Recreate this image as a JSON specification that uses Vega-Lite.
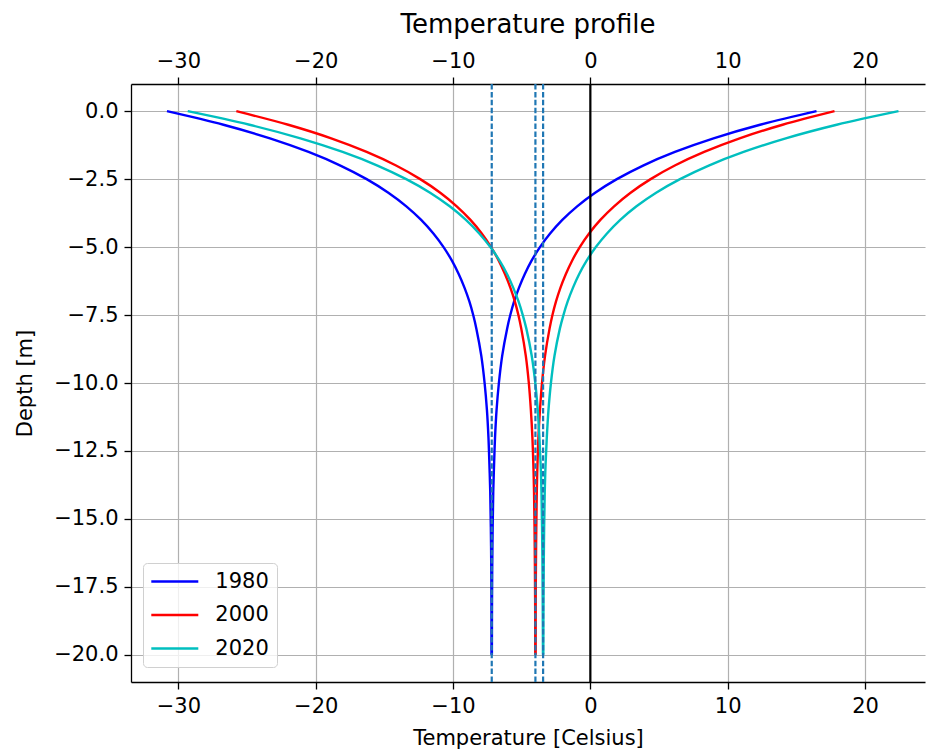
{
  "$schema": "https://vega.github.io/schema/vega-lite/v6.json",
  "width": 794,
  "height": 598,
  "autosize": "none",
  "padding": {"left": 131, "top": 84, "right": 2, "bottom": 73},
  "background": "white",
  "title": {"text": "Temperature profile", "fontSize": 26, "font": "DejaVu Sans", "fontWeight": "normal", "color": "black", "anchor": "middle", "offset": 12},
  "datasets": {
    "profiles": [
      {"year":"1980","branch":"min","depth":0,"temp":-30.83},{"year":"1980","branch":"min","depth":-0.5,"temp":-26.72},{"year":"1980","branch":"min","depth":-1,"temp":-23.33},{"year":"1980","branch":"min","depth":-1.5,"temp":-20.52},{"year":"1980","branch":"min","depth":-2,"temp":-18.2},{"year":"1980","branch":"min","depth":-2.5,"temp":-16.29},{"year":"1980","branch":"min","depth":-3,"temp":-14.71},{"year":"1980","branch":"min","depth":-3.5,"temp":-13.4},{"year":"1980","branch":"min","depth":-4,"temp":-12.32},{"year":"1980","branch":"min","depth":-4.5,"temp":-11.43},{"year":"1980","branch":"min","depth":-5,"temp":-10.69},{"year":"1980","branch":"min","depth":-5.5,"temp":-10.08},{"year":"1980","branch":"min","depth":-6,"temp":-9.58},{"year":"1980","branch":"min","depth":-6.5,"temp":-9.16},{"year":"1980","branch":"min","depth":-7,"temp":-8.81},{"year":"1980","branch":"min","depth":-7.5,"temp":-8.53},{"year":"1980","branch":"min","depth":-8,"temp":-8.3},{"year":"1980","branch":"min","depth":-9,"temp":-7.94},{"year":"1980","branch":"min","depth":-10,"temp":-7.7},{"year":"1980","branch":"min","depth":-11,"temp":-7.53},{"year":"1980","branch":"min","depth":-12,"temp":-7.42},{"year":"1980","branch":"min","depth":-13,"temp":-7.35},{"year":"1980","branch":"min","depth":-14,"temp":-7.29},{"year":"1980","branch":"min","depth":-16,"temp":-7.23},{"year":"1980","branch":"min","depth":-18,"temp":-7.2},{"year":"1980","branch":"min","depth":-20,"temp":-7.19},
      {"year":"1980","branch":"max","depth":0,"temp":16.47},{"year":"1980","branch":"max","depth":-0.5,"temp":12.36},{"year":"1980","branch":"max","depth":-1,"temp":8.97},{"year":"1980","branch":"max","depth":-1.5,"temp":6.16},{"year":"1980","branch":"max","depth":-2,"temp":3.84},{"year":"1980","branch":"max","depth":-2.5,"temp":1.93},{"year":"1980","branch":"max","depth":-3,"temp":0.35},{"year":"1980","branch":"max","depth":-3.5,"temp":-0.96},{"year":"1980","branch":"max","depth":-4,"temp":-2.04},{"year":"1980","branch":"max","depth":-4.5,"temp":-2.93},{"year":"1980","branch":"max","depth":-5,"temp":-3.67},{"year":"1980","branch":"max","depth":-5.5,"temp":-4.28},{"year":"1980","branch":"max","depth":-6,"temp":-4.78},{"year":"1980","branch":"max","depth":-6.5,"temp":-5.2},{"year":"1980","branch":"max","depth":-7,"temp":-5.55},{"year":"1980","branch":"max","depth":-7.5,"temp":-5.83},{"year":"1980","branch":"max","depth":-8,"temp":-6.06},{"year":"1980","branch":"max","depth":-9,"temp":-6.42},{"year":"1980","branch":"max","depth":-10,"temp":-6.66},{"year":"1980","branch":"max","depth":-11,"temp":-6.83},{"year":"1980","branch":"max","depth":-12,"temp":-6.94},{"year":"1980","branch":"max","depth":-13,"temp":-7.01},{"year":"1980","branch":"max","depth":-14,"temp":-7.07},{"year":"1980","branch":"max","depth":-16,"temp":-7.13},{"year":"1980","branch":"max","depth":-18,"temp":-7.16},{"year":"1980","branch":"max","depth":-20,"temp":-7.17},
      {"year":"2000","branch":"min","depth":0,"temp":-25.78},{"year":"2000","branch":"min","depth":-0.5,"temp":-22.0},{"year":"2000","branch":"min","depth":-1,"temp":-18.87},{"year":"2000","branch":"min","depth":-1.5,"temp":-16.29},{"year":"2000","branch":"min","depth":-2,"temp":-14.15},{"year":"2000","branch":"min","depth":-2.5,"temp":-12.39},{"year":"2000","branch":"min","depth":-3,"temp":-10.93},{"year":"2000","branch":"min","depth":-3.5,"temp":-9.73},{"year":"2000","branch":"min","depth":-4,"temp":-8.73},{"year":"2000","branch":"min","depth":-4.5,"temp":-7.91},{"year":"2000","branch":"min","depth":-5,"temp":-7.23},{"year":"2000","branch":"min","depth":-5.5,"temp":-6.67},{"year":"2000","branch":"min","depth":-6,"temp":-6.21},{"year":"2000","branch":"min","depth":-6.5,"temp":-5.82},{"year":"2000","branch":"min","depth":-7,"temp":-5.5},{"year":"2000","branch":"min","depth":-7.5,"temp":-5.24},{"year":"2000","branch":"min","depth":-8,"temp":-5.03},{"year":"2000","branch":"min","depth":-9,"temp":-4.7},{"year":"2000","branch":"min","depth":-10,"temp":-4.48},{"year":"2000","branch":"min","depth":-11,"temp":-4.33},{"year":"2000","branch":"min","depth":-12,"temp":-4.22},{"year":"2000","branch":"min","depth":-13,"temp":-4.15},{"year":"2000","branch":"min","depth":-14,"temp":-4.1},{"year":"2000","branch":"min","depth":-16,"temp":-4.05},{"year":"2000","branch":"min","depth":-18,"temp":-4.02},{"year":"2000","branch":"min","depth":-20,"temp":-4.01},
      {"year":"2000","branch":"max","depth":0,"temp":17.78},{"year":"2000","branch":"max","depth":-0.5,"temp":14.0},{"year":"2000","branch":"max","depth":-1,"temp":10.87},{"year":"2000","branch":"max","depth":-1.5,"temp":8.29},{"year":"2000","branch":"max","depth":-2,"temp":6.15},{"year":"2000","branch":"max","depth":-2.5,"temp":4.39},{"year":"2000","branch":"max","depth":-3,"temp":2.93},{"year":"2000","branch":"max","depth":-3.5,"temp":1.73},{"year":"2000","branch":"max","depth":-4,"temp":0.73},{"year":"2000","branch":"max","depth":-4.5,"temp":-0.09},{"year":"2000","branch":"max","depth":-5,"temp":-0.77},{"year":"2000","branch":"max","depth":-5.5,"temp":-1.33},{"year":"2000","branch":"max","depth":-6,"temp":-1.79},{"year":"2000","branch":"max","depth":-6.5,"temp":-2.18},{"year":"2000","branch":"max","depth":-7,"temp":-2.5},{"year":"2000","branch":"max","depth":-7.5,"temp":-2.76},{"year":"2000","branch":"max","depth":-8,"temp":-2.97},{"year":"2000","branch":"max","depth":-9,"temp":-3.3},{"year":"2000","branch":"max","depth":-10,"temp":-3.52},{"year":"2000","branch":"max","depth":-11,"temp":-3.67},{"year":"2000","branch":"max","depth":-12,"temp":-3.78},{"year":"2000","branch":"max","depth":-13,"temp":-3.85},{"year":"2000","branch":"max","depth":-14,"temp":-3.9},{"year":"2000","branch":"max","depth":-16,"temp":-3.95},{"year":"2000","branch":"max","depth":-18,"temp":-3.98},{"year":"2000","branch":"max","depth":-20,"temp":-3.99},
      {"year":"2020","branch":"min","depth":0,"temp":-29.32},{"year":"2020","branch":"min","depth":-0.5,"temp":-24.82},{"year":"2020","branch":"min","depth":-1,"temp":-21.11},{"year":"2020","branch":"min","depth":-1.5,"temp":-18.04},{"year":"2020","branch":"min","depth":-2,"temp":-15.5},{"year":"2020","branch":"min","depth":-2.5,"temp":-13.41},{"year":"2020","branch":"min","depth":-3,"temp":-11.67},{"year":"2020","branch":"min","depth":-3.5,"temp":-10.24},{"year":"2020","branch":"min","depth":-4,"temp":-9.06},{"year":"2020","branch":"min","depth":-4.5,"temp":-8.09},{"year":"2020","branch":"min","depth":-5,"temp":-7.28},{"year":"2020","branch":"min","depth":-5.5,"temp":-6.61},{"year":"2020","branch":"min","depth":-6,"temp":-6.06},{"year":"2020","branch":"min","depth":-6.5,"temp":-5.61},{"year":"2020","branch":"min","depth":-7,"temp":-5.23},{"year":"2020","branch":"min","depth":-7.5,"temp":-4.92},{"year":"2020","branch":"min","depth":-8,"temp":-4.66},{"year":"2020","branch":"min","depth":-9,"temp":-4.27},{"year":"2020","branch":"min","depth":-10,"temp":-4.01},{"year":"2020","branch":"min","depth":-11,"temp":-3.83},{"year":"2020","branch":"min","depth":-12,"temp":-3.71},{"year":"2020","branch":"min","depth":-13,"temp":-3.62},{"year":"2020","branch":"min","depth":-14,"temp":-3.56},{"year":"2020","branch":"min","depth":-16,"temp":-3.5},{"year":"2020","branch":"min","depth":-18,"temp":-3.47},{"year":"2020","branch":"min","depth":-20,"temp":-3.45},
      {"year":"2020","branch":"max","depth":0,"temp":22.44},{"year":"2020","branch":"max","depth":-0.5,"temp":17.94},{"year":"2020","branch":"max","depth":-1,"temp":14.23},{"year":"2020","branch":"max","depth":-1.5,"temp":11.16},{"year":"2020","branch":"max","depth":-2,"temp":8.62},{"year":"2020","branch":"max","depth":-2.5,"temp":6.53},{"year":"2020","branch":"max","depth":-3,"temp":4.79},{"year":"2020","branch":"max","depth":-3.5,"temp":3.36},{"year":"2020","branch":"max","depth":-4,"temp":2.18},{"year":"2020","branch":"max","depth":-4.5,"temp":1.21},{"year":"2020","branch":"max","depth":-5,"temp":0.4},{"year":"2020","branch":"max","depth":-5.5,"temp":-0.27},{"year":"2020","branch":"max","depth":-6,"temp":-0.82},{"year":"2020","branch":"max","depth":-6.5,"temp":-1.27},{"year":"2020","branch":"max","depth":-7,"temp":-1.65},{"year":"2020","branch":"max","depth":-7.5,"temp":-1.96},{"year":"2020","branch":"max","depth":-8,"temp":-2.22},{"year":"2020","branch":"max","depth":-9,"temp":-2.61},{"year":"2020","branch":"max","depth":-10,"temp":-2.87},{"year":"2020","branch":"max","depth":-11,"temp":-3.05},{"year":"2020","branch":"max","depth":-12,"temp":-3.17},{"year":"2020","branch":"max","depth":-13,"temp":-3.26},{"year":"2020","branch":"max","depth":-14,"temp":-3.32},{"year":"2020","branch":"max","depth":-16,"temp":-3.38},{"year":"2020","branch":"max","depth":-18,"temp":-3.41},{"year":"2020","branch":"max","depth":-20,"temp":-3.43}
    ],
    "means": [{"temp": -7.18}, {"temp": -4.0}, {"temp": -3.44}],
    "zero": [{"temp": 0}]
  },
  "layer": [
    {
      "data": {"name": "profiles"},
      "mark": {"type": "line", "strokeWidth": 2.4, "interpolate": "catmull-rom", "clip": true},
      "encoding": {
        "x": {"field": "temp", "type": "quantitative", "scale": {"domain": [-33.45, 24.37], "nice": false, "zero": false},
              "axis": {"orient": "bottom", "title": "Temperature [Celsius]", "values": [-30, -20, -10, 0, 10, 20], "format": "d", "grid": true}},
        "y": {"field": "depth", "type": "quantitative", "scale": {"domain": [-21, 1], "nice": false, "zero": false},
              "axis": {"title": "Depth [m]", "values": [-20, -17.5, -15, -12.5, -10, -7.5, -5, -2.5, 0], "format": ".1f", "grid": true}},
        "color": {"field": "year", "type": "nominal", "scale": {"domain": ["1980", "2000", "2020"], "range": ["#0000ff", "#ff0000", "#00bfbf"]},
                  "legend": {"title": null, "orient": "none", "legendX": 12, "legendY": 479, "labelExpr": "datum.label + '\u2009'"}},
        "detail": {"field": "branch"},
        "order": {"field": "depth", "type": "quantitative"}
      }
    },
    {
      "data": {"name": "means"},
      "mark": {"type": "rule", "color": "#1f77b4", "strokeWidth": 2.2, "strokeDash": [5.5, 2.4]},
      "encoding": {
        "x": {"field": "temp", "type": "quantitative",
              "axis": {"orient": "top", "title": null, "values": [-30, -20, -10, 0, 10, 20], "format": "d", "grid": false}}
      }
    },
    {
      "data": {"name": "zero"},
      "mark": {"type": "rule", "color": "black", "strokeWidth": 2.2},
      "encoding": {
        "x": {"field": "temp", "type": "quantitative", "axis": null}
      }
    }
  ],
  "resolve": {"axis": {"x": "independent"}},
  "config": {
    "view": {"stroke": null},
    "font": "DejaVu Sans",
    "axis": {
      "domainColor": "black", "domainWidth": 1.3,
      "tickColor": "black", "tickWidth": 1.3, "tickSize": 7,
      "labelColor": "black", "labelFont": "DejaVu Sans", "labelFontSize": 21, "labelPadding": 6,
      "titleColor": "black", "titleFont": "DejaVu Sans", "titleFontSize": 21, "titleFontWeight": "normal",
      "gridColor": "#b0b0b0", "gridWidth": 1.2, "gridOpacity": 1,
      "labelFlush": false, "labelOverlap": false
    },
    "axisY": {"titlePadding": 18},
    "axisX": {"titlePadding": 11},
    "legend": {
      "symbolType": "M-4.7,0H4.7", "symbolSize": 100, "symbolStrokeWidth": 2.5, "symbolOffset": 13.3,
      "labelFont": "DejaVu Sans", "labelFontSize": 21, "labelColor": "black", "labelOffset": 30,
      "rowPadding": 11.5, "padding": 8, "cornerRadius": 4,
      "strokeColor": "#d0d0d0", "fillColor": "rgba(255,255,255,0.8)"
    }
  }
}
